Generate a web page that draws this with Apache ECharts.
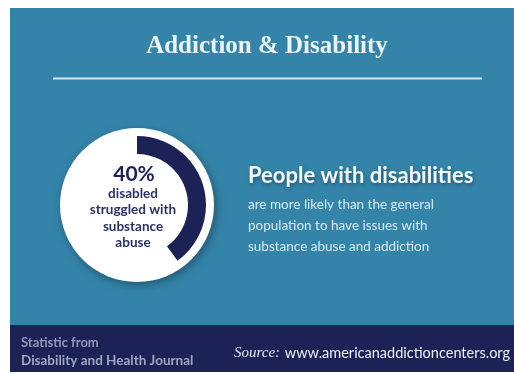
<!DOCTYPE html>
<html>
<head>
<meta charset="utf-8">
<script src="https://cdn.jsdelivr.net/npm/echarts@6/dist/echarts.min.js"></script>
<style>
html,body{margin:0;padding:0;background:#fff;}
#chart{width:514px;height:374px;}
</style>
</head>
<body>
<div id="chart"></div>
<script>
// Data
var categories = ["Disabled who struggled with substance abuse", "Others"];
var values = [40, 60];
var titleText = "Addiction & Disability";
var centerValue = "40%";
var centerLines = ["disabled", "struggled with", "substance", "abuse"];
var headline = "People with disabilities";
var bodyLines = ["are more likely than the general", "population to have issues with", "substance abuse and addiction"];
var footerLeft = ["Statistic from", "Disability and Health Journal"];
var sourceLabel = "Source:";
var sourceUrl = "www.americanaddictioncenters.org";

var BLUE = "#3484aa", NAVY = "#1d2256";
var chart = echarts.init(document.getElementById('chart'), null, {renderer: 'canvas'});

var cx = 137, cy = 205;
var option = {
  animation: false,
  backgroundColor: '#ffffff',
  graphic: [
    {type: 'rect', z: 0, shape: {x: 10, y: 8, width: 504, height: 318}, style: {fill: BLUE}},
    {type: 'rect', z: 0, shape: {x: 10, y: 325, width: 504, height: 47}, style: {fill: NAVY}},
    {type: 'text', z: 5, x: 267, y: 47, style: {text: titleText, fill: '#e9f3f8', font: 'bold 25px "Liberation Serif", "DejaVu Serif", serif', align: 'center', verticalAlign: 'middle'}},
    {type: 'line', z: 5, shape: {x1: 53, y1: 78.5, x2: 482, y2: 78.5}, style: {stroke: '#d3e8f2', lineWidth: 2}},
    {type: 'circle', z: 1, shape: {cx: cx, cy: cy, r: 77}, style: {fill: '#ffffff', shadowBlur: 10, shadowColor: 'rgba(0,0,0,0.35)', shadowOffsetX: 2, shadowOffsetY: 3}},
    {type: 'text', z: 10, x: 134, y: 174, style: {text: centerValue, fill: NAVY, font: 'bold 21px Lato, sans-serif', align: 'center', verticalAlign: 'middle'}},
    {type: 'text', z: 10, x: 133, y: 218, style: {text: centerLines.join('\n'), fill: '#2b3163', font: 'bold 13.5px Lato, sans-serif', lineHeight: 16.5, align: 'center', verticalAlign: 'middle'}},
    {type: 'text', z: 10, x: 248, y: 176, style: {text: headline, fill: '#f4f9fb', font: 'bold 22px Lato, sans-serif', align: 'left', verticalAlign: 'middle', textShadowBlur: 4, textShadowColor: 'rgba(0,0,0,0.35)', textShadowOffsetX: 1, textShadowOffsetY: 2}},
    {type: 'text', z: 10, x: 248, y: 226, style: {text: bodyLines.join('\n'), fill: '#d9eaf2', font: '13.5px Lato, sans-serif', lineHeight: 21, align: 'left', verticalAlign: 'middle'}},
    {type: 'text', z: 10, x: 21, y: 343, style: {text: footerLeft[0], fill: '#9297b6', font: 'bold 13px Lato, sans-serif', align: 'left', verticalAlign: 'middle'}},
    {type: 'text', z: 10, x: 21, y: 361, style: {text: footerLeft[1], fill: '#a0a5c2', font: 'bold 13.5px Lato, sans-serif', align: 'left', verticalAlign: 'middle'}},
    {type: 'text', z: 10, x: 234, y: 353, style: {text: sourceLabel, fill: '#e8e9f0', font: 'italic 15px "Liberation Serif", serif', align: 'left', verticalAlign: 'middle'}},
    {type: 'text', z: 10, x: 510, y: 353, style: {text: sourceUrl, fill: '#eeeef4', font: '14.5px Lato, sans-serif', align: 'right', verticalAlign: 'middle'}}
  ],
  series: [{
    type: 'pie',
    z: 3,
    silent: true,
    center: [cx, cy],
    radius: [51, 69],
    startAngle: 90,
    clockwise: true,
    label: {show: false},
    labelLine: {show: false},
    emphasis: {disabled: true},
    data: categories.map(function (c, i) {
      return {name: c, value: values[i], itemStyle: {color: i === 0 ? NAVY : 'rgba(0,0,0,0)'}};
    })
  }]
};
chart.setOption(option);
</script>
</body>
</html>
